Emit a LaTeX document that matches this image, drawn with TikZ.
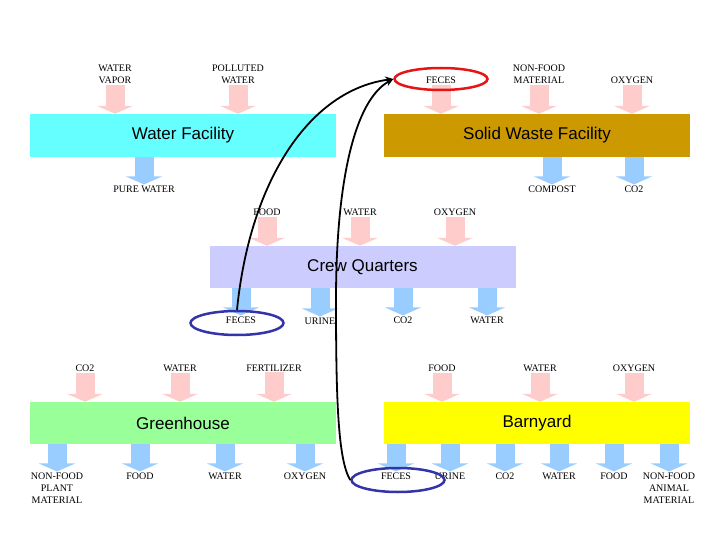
\documentclass[tikz,border=0pt]{standalone}
\usepackage{fontspec}
\setmainfont{Liberation Serif}
\newfontfamily\boxfont{Liberation Sans}
\usepackage{xcolor}
\definecolor{inpink}{RGB}{255, 204, 204}
\definecolor{outblue}{RGB}{153, 204, 255}
\definecolor{waterbox}{RGB}{102, 255, 255}
\definecolor{wastebox}{RGB}{204, 153, 0}
\definecolor{crewbox}{RGB}{204, 204, 255}
\definecolor{greenbox}{RGB}{153, 255, 153}
\definecolor{barnbox}{RGB}{255, 255, 0}
\definecolor{ringred}{RGB}{230, 20, 20}
\definecolor{ringblue}{RGB}{51, 51, 170}
\usepackage{tikz}
\usetikzlibrary{arrows.meta,shapes.geometric}

\begin{document}
\begin{tikzpicture}[
  x=1pt, y=-1pt,
  facility/.style={minimum width=306pt, minimum height=43pt, inner sep=0pt, font=\boxfont\fontsize{17}{20}\selectfont},
  lbl/.style={font=\fontsize{10}{12}\selectfont, align=center, inner sep=1pt},
  inarrow/.style={line width=19pt, color=inpink, -{Triangle[length=8pt, width=36pt]}},
  outarrow/.style={line width=19pt, color=outblue, -{Triangle[length=8pt, width=36pt]}},
  hilite/.style={ellipse, draw=#1, line width=2.5pt, minimum width=93pt, minimum height=24pt, inner sep=0pt},
  link/.style={-{Stealth[length=8pt, width=7pt]}, line width=1.8pt, color=black}
]
\useasboundingbox (0,0) rectangle (720,540);

% facilities
\node[facility, fill=waterbox] (water) at (183,135.5) {Water Facility};
\node[facility, fill=wastebox] (waste) at (537,135.5) {Solid Waste Facility};
\node[facility, fill=crewbox, minimum height=42pt] (crew) at (362.5,267) {Crew Quarters};
\node[facility, fill=greenbox, minimum height=42pt] (green) at (183,423) {Greenhouse};
\node[facility, fill=barnbox, minimum height=42pt] (barn) at (537,423) {Barnyard};

% water facility
\node[lbl] (wvapor) at (115,74) {WATER\\VAPOR};
\node[lbl] (wpoll) at (238,74) {POLLUTED\\WATER};
\node[lbl] (wpure) at (144,189) {PURE WATER};
\draw[inarrow] (wvapor.south) -- (wvapor.south |- water.north);
\draw[inarrow] (wpoll.south) -- (wpoll.south |- water.north);
\draw[outarrow] (wpure.north |- water.south) -- (wpure.north);

% solid waste facility
\node[lbl] (sfeces) at (441,80) {FECES};
\node[lbl] (snonfood) at (539,74) {NON-FOOD\\MATERIAL};
\node[lbl] (soxygen) at (632,80) {OXYGEN};
\node[lbl] (scompost) at (552,189) {COMPOST};
\node[lbl] (sco2) at (634,189) {CO2};
\draw[inarrow] (sfeces.south) -- (sfeces.south |- waste.north);
\draw[inarrow] (snonfood.south) -- (snonfood.south |- waste.north);
\draw[inarrow] (soxygen.south) -- (soxygen.south |- waste.north);
\draw[outarrow] (scompost.north |- waste.south) -- (scompost.north);
\draw[outarrow] (sco2.north |- waste.south) -- (sco2.north);

% crew quarters
\node[lbl] (cfood) at (267,212) {FOOD};
\node[lbl] (cwater) at (360,212) {WATER};
\node[lbl] (coxygen) at (455,212) {OXYGEN};
\node[lbl] (cfeces) at (241,320) {FECES};
\node[lbl] (curine) at (320,321) {URINE};
\node[lbl] (cco2) at (403,320) {CO2};
\node[lbl] (cwaterout) at (487,320) {WATER};
\draw[inarrow] (cfood.south) -- (cfood.south |- crew.north);
\draw[inarrow] (cwater.south) -- (cwater.south |- crew.north);
\draw[inarrow] (coxygen.south) -- (coxygen.south |- crew.north);
\draw[outarrow] (cfeces.north |- crew.south) -- (cfeces.north);
\draw[outarrow] (curine.north |- crew.south) -- (curine.north);
\draw[outarrow] (cco2.north |- crew.south) -- (cco2.north);
\draw[outarrow] (cwaterout.north |- crew.south) -- (cwaterout.north);

% greenhouse
\node[lbl] (gco2) at (85,368) {CO2};
\node[lbl] (gwater) at (180,368) {WATER};
\node[lbl] (gfert) at (274,368) {FERTILIZER};
\node[lbl] (gnonfood) at (57,488) {NON-FOOD\\PLANT\\MATERIAL};
\node[lbl] (gfood) at (140,476) {FOOD};
\node[lbl] (gwaterout) at (225,476) {WATER};
\node[lbl] (goxygen) at (305,476) {OXYGEN};
\draw[inarrow] (gco2.south) -- (gco2.south |- green.north);
\draw[inarrow] (gwater.south) -- (gwater.south |- green.north);
\draw[inarrow] (gfert.south) -- (gfert.south |- green.north);
\draw[outarrow] (gnonfood.north |- green.south) -- (gnonfood.north);
\draw[outarrow] (gfood.north |- green.south) -- (gfood.north);
\draw[outarrow] (gwaterout.north |- green.south) -- (gwaterout.north);
\draw[outarrow] (goxygen.north |- green.south) -- (goxygen.north);

% barnyard
\node[lbl] (bfood) at (442,368) {FOOD};
\node[lbl] (bwater) at (540,368) {WATER};
\node[lbl] (boxygen) at (634,368) {OXYGEN};
\node[lbl] (bfeces) at (396,476) {FECES};
\node[lbl] (burine) at (450,476) {URINE};
\node[lbl] (bco2) at (505,476) {CO2};
\node[lbl] (bwaterout) at (559,476) {WATER};
\node[lbl] (bfoodout) at (614,476) {FOOD};
\node[lbl] (bnonfood) at (669,488) {NON-FOOD\\ANIMAL\\MATERIAL};
\draw[inarrow] (bfood.south) -- (bfood.south |- barn.north);
\draw[inarrow] (bwater.south) -- (bwater.south |- barn.north);
\draw[inarrow] (boxygen.south) -- (boxygen.south |- barn.north);
\draw[outarrow] (bfeces.north |- barn.south) -- (bfeces.north);
\draw[outarrow] (burine.north |- barn.south) -- (burine.north);
\draw[outarrow] (bco2.north |- barn.south) -- (bco2.north);
\draw[outarrow] (bwaterout.north |- barn.south) -- (bwaterout.north);
\draw[outarrow] (bfoodout.north |- barn.south) -- (bfoodout.north);
\draw[outarrow] (bnonfood.north |- barn.south) -- (bnonfood.north);

% feces loops
\node[hilite=ringred, minimum height=22pt] (sring) at (441,79) {};
\node[hilite=ringblue] (cring) at (237,323) {};
\node[hilite=ringblue] (bring) at (398,480) {};
\draw[link] (cring.north) .. controls (250,180) and (310,90) .. (sring.west);
\draw[link] (bring.west) .. controls (338,460) and (336,400) .. (336,300)
  .. controls (336,180) and (355,100) .. (sring.west);
\end{tikzpicture}
\end{document}
